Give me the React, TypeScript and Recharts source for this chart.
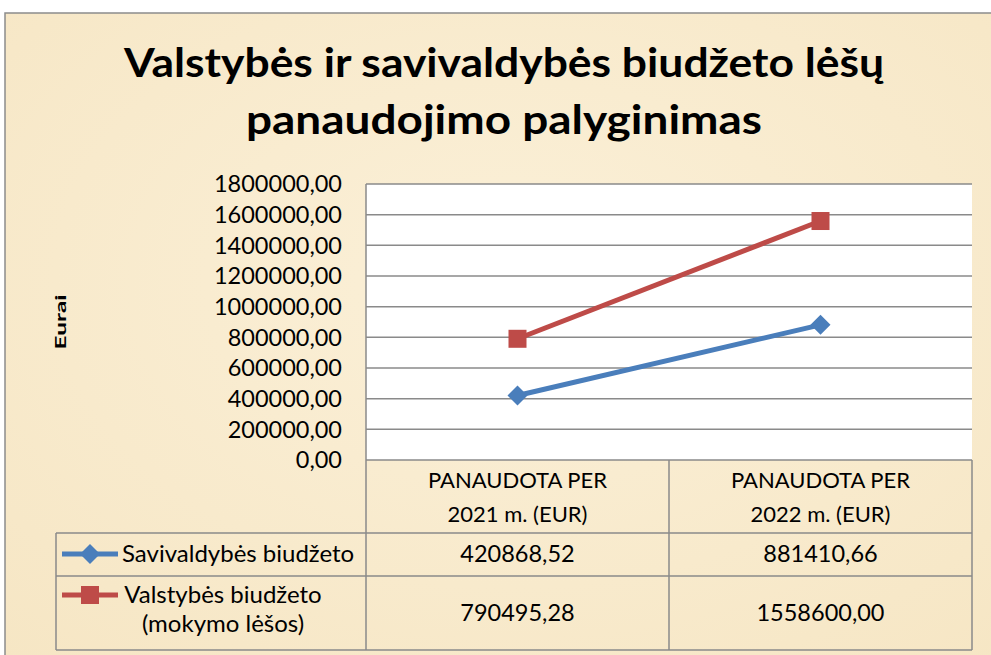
import React from "react";
import { LineChart, Line, XAxis, YAxis, CartesianGrid } from "recharts";

const categories = ["PANAUDOTA PER\n2021 m. (EUR)", "PANAUDOTA PER\n2022 m. (EUR)"];
const savivaldybes = [420868.52, 881410.66];
const valstybes = [790495.28, 1558600.0];
const yTicks = [0, 200000, 400000, 600000, 800000, 1000000, 1200000, 1400000, 1600000, 1800000];
const seriesNames = ["Savivaldybės biudžeto", "Valstybės biudžeto\n(mokymo lėšos)"];

const W = 991;
const H = 655;
const plotLeft = 366;
const plotRight = 972;
const plotTop = 184;
const plotBottom = 460;
const colW = (plotRight - plotLeft) / categories.length;
const legendLeft = 56;
const headerBottom = 533;
const rowBottoms = [576, 650];

const BLUE = "#4A7EBB";
const RED = "#BE4B48";
const GRID = "#8A8A8A";
const FONT = "Lato, 'Open Sans', sans-serif";

const data = categories.map((c, i) => ({
  name: c,
  sav: savivaldybes[i],
  val: valstybes[i],
}));

const fmt = (v: number) => v.toFixed(2).replace(".", ",");

const Diamond = (props: any) => {
  const { cx, cy } = props;
  if (cx == null || cy == null) return null;
  const r = 10;
  return <polygon points={`${cx},${cy - r} ${cx + r},${cy} ${cx},${cy + r} ${cx - r},${cy}`} fill={BLUE} />;
};

const Square = (props: any) => {
  const { cx, cy } = props;
  if (cx == null || cy == null) return null;
  const s = 9;
  return <rect x={cx - s} y={cy - s} width={s * 2} height={s * 2} fill={RED} />;
};

export default function App() {
  const seriesValues = [savivaldybes, valstybes];
  const rowBaselines = [[562], [603, 632]];
  const valueBaselines = [562, 621];
  return (
    <div style={{ position: "absolute", left: 0, top: 0, width: W, height: H, background: "#fff", fontFamily: FONT }}>
      <svg width={W} height={H} style={{ position: "absolute", left: 0, top: 0 }}>
        <defs>
          <radialGradient id="parch" cx="50%" cy="40%" r="75%">
            <stop offset="0%" stopColor="#FBF0D8" />
            <stop offset="100%" stopColor="#F6E6C4" />
          </radialGradient>
        </defs>
        <rect x={5} y={13} width={W + 20} height={H + 20} fill="url(#parch)" stroke="#8C8C8C" strokeWidth={1.5} />
      </svg>
      <div style={{ position: "absolute", left: 0, top: 0 }}>
        <LineChart
          width={W}
          height={H}
          data={data}
          margin={{ top: plotTop, right: W - plotRight, bottom: H - plotBottom, left: 0 }}
        >
          <CartesianGrid vertical={false} stroke={GRID} strokeWidth={1.5} fill="#ffffff" fillOpacity={1} />
          <XAxis dataKey="name" hide padding={{ left: colW / 2, right: colW / 2 }} />
          <YAxis
            width={plotLeft}
            domain={[0, 1800000]}
            ticks={yTicks}
            tickFormatter={fmt}
            tickLine={false}
            tickSize={0}
            tickMargin={24}
            axisLine={{ stroke: GRID, strokeWidth: 1.5 }}
            tick={{ fill: "#000", fontSize: 23.5, fontFamily: FONT }}
            interval={0}
          />
          <Line dataKey="sav" stroke={BLUE} strokeWidth={5} dot={<Diamond />} isAnimationActive={false} />
          <Line dataKey="val" stroke={RED} strokeWidth={5} dot={<Square />} isAnimationActive={false} />
        </LineChart>
      </div>
      <svg width={W} height={H} style={{ position: "absolute", left: 0, top: 0, pointerEvents: "none" }} fontFamily={FONT}>
        <text x={504} y={77} textAnchor="middle" fontSize={40} fontWeight={700} fill="#000" textLength={760} lengthAdjust="spacingAndGlyphs">
          Valstybės ir savivaldybės biudžeto lėšų
        </text>
        <text x={504} y={134} textAnchor="middle" fontSize={40} fontWeight={700} fill="#000" textLength={516} lengthAdjust="spacingAndGlyphs">
          panaudojimo palyginimas
        </text>
        <text
          x={0}
          y={0}
          transform="translate(66, 322) rotate(-90)"
          textAnchor="middle"
          fontSize={16}
          fontWeight={700}
          fill="#000"
          textLength={55}
          lengthAdjust="spacingAndGlyphs"
        >
          Eurai
        </text>
        {/* table grid */}
        <g stroke={GRID} strokeWidth={1.5}>
          <line x1={plotLeft} y1={plotBottom} x2={plotLeft} y2={rowBottoms[1]} />
          {categories.map((_, i) => (
            <line key={i} x1={plotLeft + colW * (i + 1)} y1={plotBottom} x2={plotLeft + colW * (i + 1)} y2={rowBottoms[1]} />
          ))}
          <line x1={legendLeft} y1={headerBottom} x2={legendLeft} y2={rowBottoms[1]} />
          <line x1={legendLeft} y1={headerBottom} x2={plotRight} y2={headerBottom} />
          {rowBottoms.map((y, i) => (
            <line key={i} x1={legendLeft} y1={y} x2={plotRight} y2={y} />
          ))}
        </g>
        {/* header */}
        {categories.map((c, i) =>
          c.split("\n").map((ln, j) => (
            <text
              key={`${i}-${j}`}
              x={plotLeft + colW * (i + 0.5)}
              y={488 + j * 34}
              textAnchor="middle"
              fontSize={22}
              fill="#000"
            >
              {ln}
            </text>
          ))
        )}
        {/* rows */}
        {seriesNames.map((name, r) => {
          const lines = name.split("\n");
          const color = r === 0 ? BLUE : RED;
          const symY = rowBaselines[r][0] - 8;
          return (
            <g key={r}>
              <line x1={62} y1={symY} x2={118} y2={symY} stroke={color} strokeWidth={5} />
              {r === 0 ? <Diamond cx={90} cy={symY} /> : <Square cx={90} cy={symY} />}
              {lines.map((ln, j) => (
                <text
                  key={j}
                  x={lines.length > 1 ? 223 : 122}
                  y={rowBaselines[r][j]}
                  textAnchor={lines.length > 1 ? "middle" : "start"}
                  fontSize={24}
                  fill="#000"
                >
                  {ln}
                </text>
              ))}
              {seriesValues[r].map((v, i) => (
                <text key={i} x={plotLeft + colW * (i + 0.5)} y={valueBaselines[r]} textAnchor="middle" fontSize={23.5} fill="#000">
                  {fmt(v)}
                </text>
              ))}
            </g>
          );
        })}
      </svg>
    </div>
  );
}
